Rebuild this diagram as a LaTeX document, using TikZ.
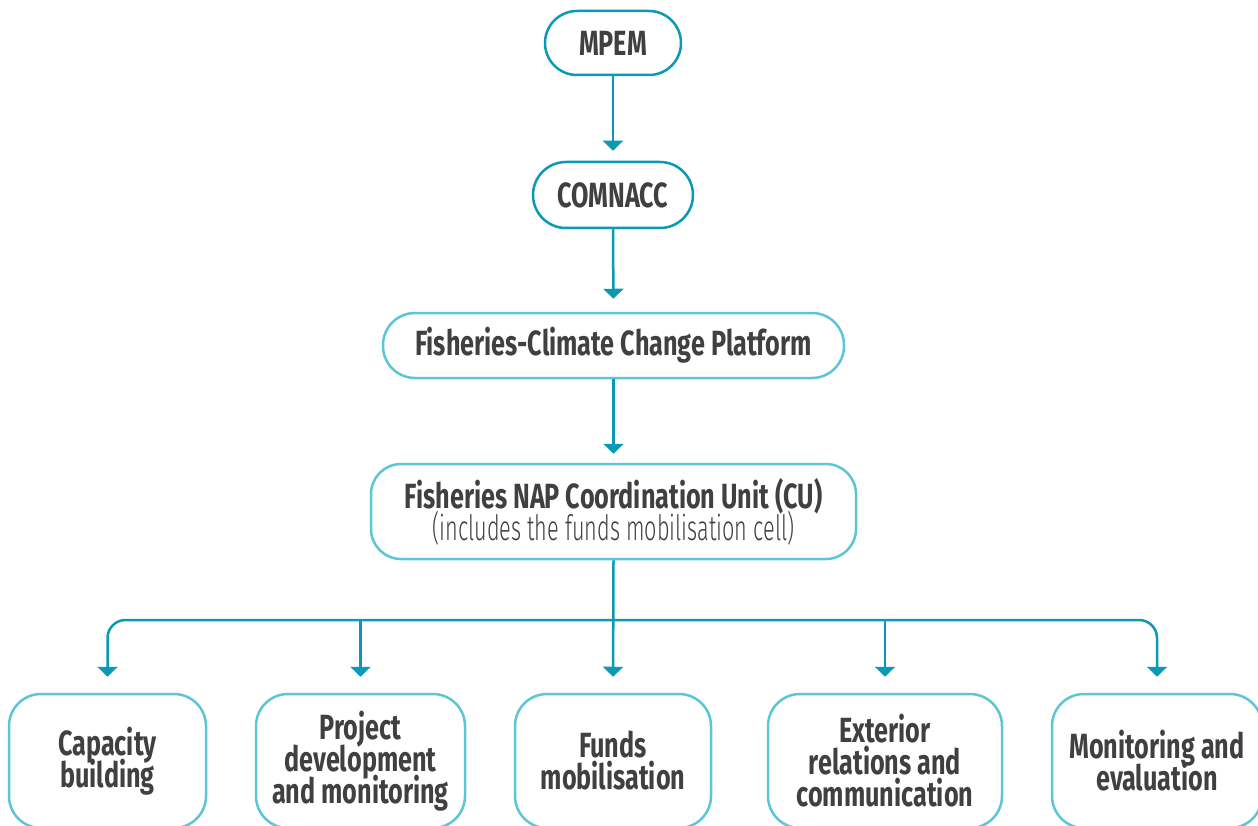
\documentclass[tikz,border=0pt]{standalone}
\usepackage{fontspec}
\setmainfont{Fira Sans}[FakeStretch=0.72]
\newfontfamily\lightfont{Fira Sans Light}[FakeStretch=0.62]
\usetikzlibrary{arrows.meta,calc}
\definecolor{darkteal}{HTML}{0A9AB6}
\definecolor{lightteal}{HTML}{5CC6D6}
\definecolor{txt}{HTML}{404040}
\newcommand{\boxfont}{\fontsize{35}{32}\selectfont\bfseries\lineskiplimit=-40pt\relax\lineskip=0pt\relax}
\begin{document}
\begin{tikzpicture}[x=1pt,y=-1pt,
  box/.style={draw, line width=2.5pt, fill=white, text=txt, align=center, inner sep=0pt,
    font=\boxfont},
  topbox/.style={box, draw=darkteal},
  lbox/.style={box, draw=lightteal},
  arr/.style={draw=darkteal, line width=2.5pt, -{Triangle[width=20pt,length=10pt]}},
  ln/.style={draw=darkteal, line width=2.5pt}]
\useasboundingbox (0,0) rectangle (1258,826);
\begin{scope}
\clip (0,0) rectangle (1258,826);
\node[topbox, minimum width=136pt, minimum height=64pt, rounded corners=32pt] (mpem) at (613,43) {MPEM};
\node[topbox, minimum width=160pt, minimum height=66pt, rounded corners=33pt] (com) at (613,195) {COMNACC};
\node[lbox, minimum width=461pt, minimum height=65pt, rounded corners=32pt] (fcc) at (613.5,345.5) {Fisheries-Climate Change Platform};
\node[lbox, minimum width=485pt, minimum height=95pt, rounded corners=30pt] (cu) at (613.5,511.5) {Fisheries NAP Coordination Unit (CU)\\{\lightfont\mdseries (includes the funds mobilisation cell)}};
\node[lbox, minimum width=197pt, minimum height=134pt, rounded corners=32pt] (b1) at (107.5,761) {Capacity\\building};
\node[lbox, minimum width=209pt, minimum height=134pt, rounded corners=32pt] (b2) at (360.5,761) {Project\\development\\and monitoring};
\node[lbox, minimum width=196pt, minimum height=134pt, rounded corners=32pt] (b3) at (613,761) {Funds\\mobilisation};
\node[lbox, minimum width=234pt, minimum height=134pt, rounded corners=32pt] (b4) at (885,761) {Exterior\\relations and\\communication};
\node[lbox, minimum width=210pt, minimum height=134pt, rounded corners=32pt] (b5) at (1157,761) {Monitoring and\\evaluation};
\end{scope}
\coordinate (hub) at (613,620);
\draw[arr, shorten >=10pt] (mpem.south) -- (com.north);
\draw[arr, shorten >=13pt] (com.south) -- (fcc.north);
\draw[arr, shorten >=9pt] (fcc.south) -- (cu.north);
\draw[arr, shorten >=16pt] (cu.south) -- (b3.north);
\draw[arr, shorten >=16pt, rounded corners=18pt] (hub) -| (b1.north);
\draw[arr, shorten >=16pt, rounded corners=18pt] (hub) -| (b5.north);
\draw[arr, shorten >=16pt] (b2.north |- hub) -- (b2.north);
\draw[arr, shorten >=16pt] (b4.north |- hub) -- (b4.north);
\end{tikzpicture}
\end{document}
